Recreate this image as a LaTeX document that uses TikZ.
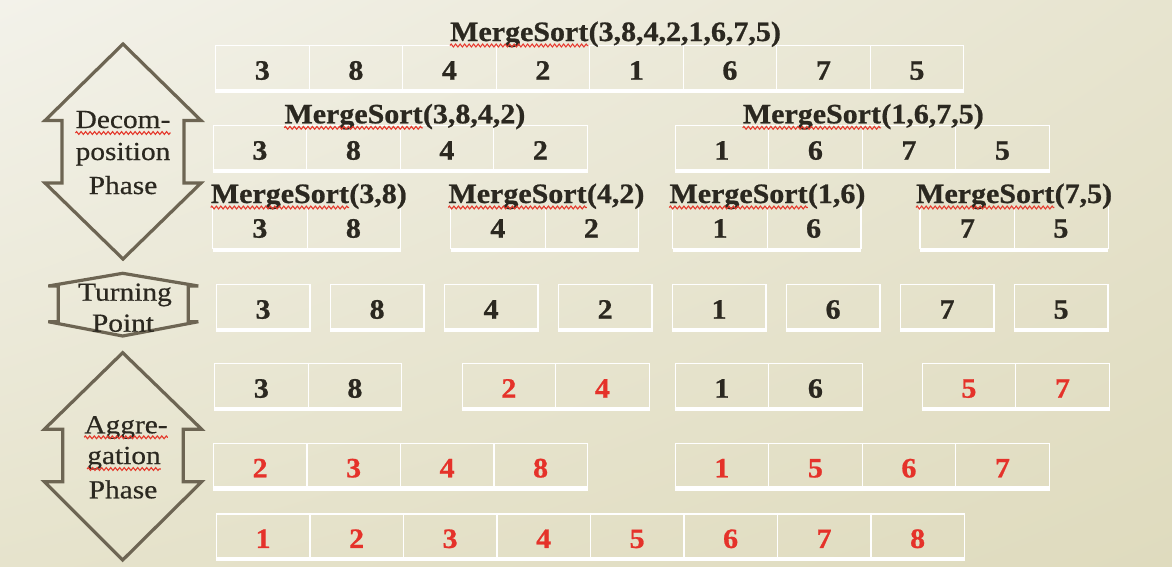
\documentclass[tikz,border=0pt]{standalone}
\usepackage{fontspec}
\setmainfont{Liberation Serif}
\newfontfamily\lblfam[FakeStretch=1.07,FakeBold=0.8]{Liberation Serif Bold}
\newfontfamily\sidefam[FakeStretch=1.13,FakeBold=0.5]{Liberation Serif}
\usetikzlibrary{decorations.pathmorphing,shadings}
\definecolor{ink}{HTML}{2B2820}
\definecolor{redink}{HTML}{E5322A}
\definecolor{outline}{HTML}{6D6553}
\definecolor{squigred}{HTML}{E5392C}
\definecolor{bgUL}{HTML}{F3F2EA}
\definecolor{bgUR}{HTML}{E7E4CF}
\definecolor{bgLL}{HTML}{E6E3CC}
\definecolor{bgLR}{HTML}{DFDBBE}
\newcommand\lblfont{\lblfam\fontsize{28}{30}\selectfont}
\tikzset{
  cell/.style={draw=white, line width=1.3pt, minimum width=93.5pt, inner sep=0pt,
    text height=34pt, text depth=9.5pt, font=\lblfont, text=ink},
  rcell/.style={cell, text=redink},
  opencell/.style={cell, draw=none, text height=31pt, text depth=10pt},
  cellline/.style={draw=white, line width=1.3pt},
  bar/.style={draw=white, line width=3.5pt},
  lbl/.style={inner sep=0pt, font=\lblfont, text=ink},
  side/.style={inner sep=0pt, font=\sidefam\fontsize{26}{30}\selectfont, text=ink},
  squig/.style={draw=squigred, line width=1.1pt, decorate,
    decoration={zigzag, segment length=4.5pt, amplitude=1.4pt}},
  phase/.style={draw=outline, line width=3.2pt, line join=miter},
}
% name, left x, baseline y, arguments
\newcommand\mslabel[4]{%
  \node[lbl, anchor=base west] (#1w) at (#2,#3) {MergeSort};
  \node[lbl, anchor=base west] (#1) at (#1w.base east) {(#4)};
  \draw[squig] ([yshift=-4.5pt]#1w.base west) -- ([yshift=-4.5pt]#1w.base east);}
\begin{document}
\begin{tikzpicture}[x=1pt, y=-1pt]
\useasboundingbox (0,0) rectangle (1172,566);
\shade[upper left=bgUL, upper right=bgUR, lower left=bgLL, lower right=bgLR] (0,0) rectangle (1172,566);

% ---- phase shapes ----
\draw[phase] (123,44) -- (45,120.5) -- (62,120.5) -- (62,183) -- (45,183) -- (123,259)
  -- (201,183) -- (184,183) -- (184,120.5) -- (201,120.5) -- cycle;
\draw[phase] (122.7,273.3) -- (48.3,286) -- (58.3,286) -- (58.3,321.7) -- (48.3,321.7) -- (122.7,336)
  -- (198.3,321.7) -- (188.3,321.7) -- (188.3,286) -- (198.3,286) -- cycle;
\draw[phase] (122.7,352.7) -- (44.3,429.3) -- (62.7,429.3) -- (62.7,481.7) -- (44.3,481.7) -- (122.7,560)
  -- (201.7,481.7) -- (183.3,481.7) -- (183.3,429.3) -- (201.7,429.3) -- cycle;

\node[side, anchor=base] (dec1) at (123,128) {Decom-};
\node[side, anchor=base] (dec2) at (123,160) {position};
\node[side, anchor=base] (dec3) at (123,194) {Phase};
\draw[squig] ([yshift=-5pt]dec1.base west) -- ([yshift=-5pt]dec1.base east);
\node[side, anchor=base] (tp1) at (125,300.7) {Turning};
\node[side, anchor=base] (tp2) at (123,331.7) {Point};
\node[side, anchor=base] (ag1) at (126,433.3) {Aggre-};
\node[side, anchor=base] (ag2) at (124,464) {gation};
\node[side, anchor=base] (ag3) at (123,498.3) {Phase};
\draw[squig] ([yshift=-4pt]ag1.base west) -- ([yshift=-4pt]ag1.base east);
\draw[squig] ([yshift=-5pt]ag2.base west) -- ([yshift=-5pt]ag2.base east);

% ---- row 1 ----
\foreach \d [count=\i from 0] in {3,8,4,2,1,6,7,5}
  \node[cell, anchor=north west] (a\i) at (215+\i*93.5,45) {\d};
\draw[bar] ([yshift=-1.6pt]a0.south west) -- ([yshift=-1.6pt]a7.south east);

% ---- row 2 ----
\foreach \d [count=\i from 0] in {3,8,4,2}
  \node[cell, anchor=north west] (b\i) at (212.5+\i*93.5,125) {\d};
\foreach \d [count=\i from 4] in {1,6,7,5}
  \node[cell, anchor=north west] (b\i) at (674.5+\i*93.5-374,125) {\d};
\draw[bar] ([yshift=-1.6pt]b0.south west) -- ([yshift=-1.6pt]b3.south east);
\draw[bar] ([yshift=-1.6pt]b4.south west) -- ([yshift=-1.6pt]b7.south east);

% ---- row 3 (open top) ----
\node[opencell, anchor=north west] (c0) at (212.5,206) {3};
\node[opencell, anchor=north west] (c1) at (306,206) {8};
\node[opencell, anchor=north west] (c2) at (450.5,206) {4};
\node[opencell, anchor=north west] (c3) at (544,206) {2};
\node[opencell, anchor=north west] (c4) at (672.7,206) {1};
\node[opencell, anchor=north west] (c5) at (766.2,206) {6};
\node[opencell, anchor=north west] (c6) at (920,206) {7};
\node[opencell, anchor=north west] (c7) at (1013.5,206) {5};
\foreach \p/\q in {c0/c1, c2/c3, c4/c5, c6/c7} {
  \draw[cellline] (\p.north west) -- (\p.south west) -- (\q.south east) -- (\q.north east);
  \draw[cellline] (\p.north east) -- (\p.south east);
  \draw[bar] ([yshift=-1.6pt]\p.south west) -- ([yshift=-1.6pt]\q.south east);
}

% ---- row 4 (turning point) ----
\foreach \d [count=\i from 0] in {3,8,4,2,1,6,7,5} {
  \node[cell, anchor=north west] (d\i) at (215.7+\i*114,284) {\d};
  \draw[bar] ([yshift=-1.6pt]d\i.south west) -- ([yshift=-1.6pt]d\i.south east);
}

% ---- row 5 ----
\node[cell, anchor=north west] (e0) at (214,363) {3};
\node[cell, anchor=north west] (e1) at (307.5,363) {8};
\node[rcell, anchor=north west] (e2) at (461.5,363) {2};
\node[rcell, anchor=north west] (e3) at (555,363) {4};
\node[cell, anchor=north west] (e4) at (674.5,363) {1};
\node[cell, anchor=north west] (e5) at (768,363) {6};
\node[rcell, anchor=north west] (e6) at (921.5,363) {5};
\node[rcell, anchor=north west] (e7) at (1015,363) {7};
\foreach \p/\q in {e0/e1, e2/e3, e4/e5, e6/e7}
  \draw[bar] ([yshift=-1.6pt]\p.south west) -- ([yshift=-1.6pt]\q.south east);

% ---- row 6 ----
\foreach \d [count=\i from 0] in {2,3,4,8}
  \node[rcell, anchor=north west] (f\i) at (212.7+\i*93.5,442.7) {\d};
\foreach \d [count=\i from 4] in {1,5,6,7}
  \node[rcell, anchor=north west] (f\i) at (674.5+\i*93.5-374,442.7) {\d};
\draw[bar] ([yshift=-1.6pt]f0.south west) -- ([yshift=-1.6pt]f3.south east);
\draw[bar] ([yshift=-1.6pt]f4.south west) -- ([yshift=-1.6pt]f7.south east);

% ---- row 7 ----
\foreach \d [count=\i from 0] in {1,2,3,4,5,6,7,8}
  \node[rcell, anchor=north west] (g\i) at (215.7+\i*93.5,513.3) {\d};
\draw[bar] ([yshift=-1.6pt]g0.south west) -- ([yshift=-1.6pt]g7.south east);

% ---- MergeSort labels ----
\mslabel{L0}{450}{41}{3,8,4,2,1,6,7,5}
\mslabel{L1}{284.3}{123.3}{3,8,4,2}
\mslabel{L2}{742.7}{123.3}{1,6,7,5}
\mslabel{L3}{210.7}{203}{3,8}
\mslabel{L4}{448.3}{203}{4,2}
\mslabel{L5}{669.3}{203}{1,6}
\mslabel{L6}{916}{203}{7,5}
\end{tikzpicture}
\end{document}
